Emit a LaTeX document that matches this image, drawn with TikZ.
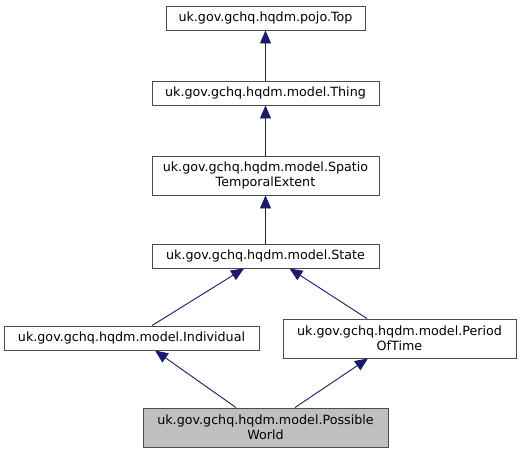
\documentclass[tikz,border=0pt]{standalone}
\usepackage{fontspec}
\setmainfont{DejaVu Sans}
\usetikzlibrary{arrows.meta}
\definecolor{edgeblue}{RGB}{25,25,112}
\definecolor{boxgray}{RGB}{191,191,191}
\begin{document}
\begin{tikzpicture}[x=1pt,y=-1pt,
 cls/.style={draw=black!70, line width=0.9pt, fill=white, inner sep=0pt, align=center, font=\fontsize{12.7}{15}\selectfont},
 one/.style={minimum height=24pt},
 two/.style={minimum height=39pt},
 inh/.style={draw=edgeblue, line width=0.9pt, {Triangle[length=13pt,width=11pt,fill=edgeblue]}-}
]
\useasboundingbox (0,0) rectangle (520,455);
\node[cls,one,minimum width=199pt] (top) at (265.5,18) {uk.gov.gchq.hqdm.pojo.Top};
\node[cls,one,minimum width=227pt] (thing) at (265.5,93) {uk.gov.gchq.hqdm.model.Thing};
\node[cls,two,minimum width=227pt] (ste) at (265.5,175.5) {uk.gov.gchq.hqdm.model.Spatio\\TemporalExtent};
\node[cls,one,minimum width=227pt] (state) at (265.5,256) {uk.gov.gchq.hqdm.model.State};
\node[cls,one,minimum width=255pt] (ind) at (131.5,338) {uk.gov.gchq.hqdm.model.Individual};
\node[cls,two,minimum width=233pt] (pot) at (399.5,338.5) {uk.gov.gchq.hqdm.model.Period\\OfTime};
\node[cls,two,minimum width=245pt,fill=boxgray] (pw) at (265.5,427.5) {uk.gov.gchq.hqdm.model.Possible\\World};
\draw[inh] (top.south) -- (thing.north);
\draw[inh] (thing.south) -- (ste.north);
\draw[inh] (ste.south) -- (state.north);
\draw[inh] ([xshift=-21.5pt]state.south) -- ([xshift=20.5pt]ind.north);
\draw[inh] ([xshift=24pt]state.south) -- ([xshift=-32.5pt]pot.north);
\draw[inh] ([xshift=23.5pt]ind.south) -- ([xshift=-29.5pt]pw.north);
\draw[inh] ([xshift=-31.5pt]pot.south) -- ([xshift=29.5pt]pw.north);
\end{tikzpicture}
\end{document}
